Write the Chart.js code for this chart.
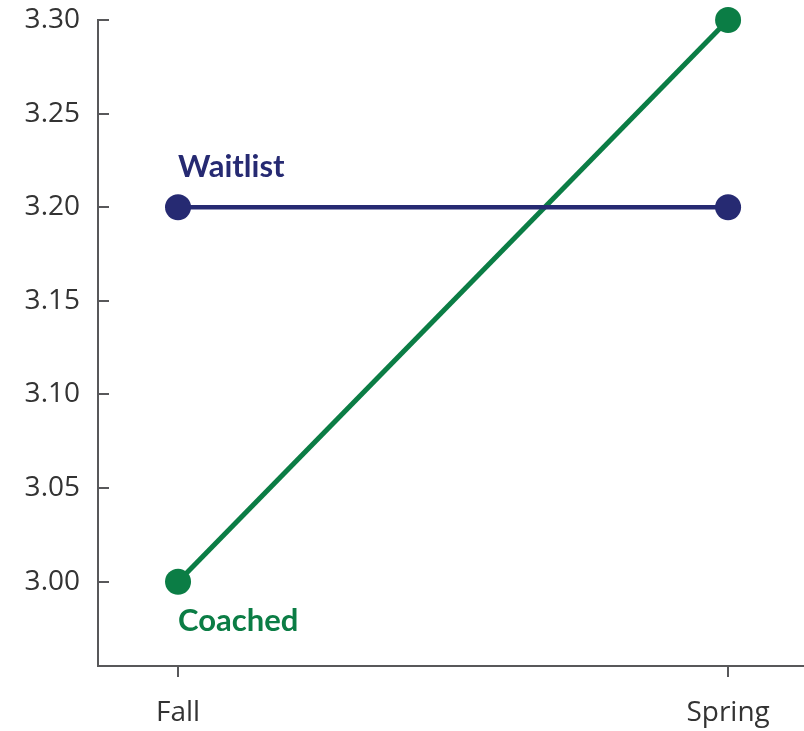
<!DOCTYPE html>
<html><head><meta charset="utf-8">
<script src="https://cdn.jsdelivr.net/npm/chart.js@4"></script>
<style>html,body{margin:0;padding:0;background:#fff;overflow:hidden}canvas{display:block}</style>
</head><body><canvas id="c" width="804" height="731"></canvas>
<script>
const categories = ["Fall", "Spring"];
const waitlist = [3.20, 3.20];
const coached = [3.00, 3.30];
const yTicks = [3.00, 3.05, 3.10, 3.15, 3.20, 3.25, 3.30];
const seriesNames = ["Waitlist", "Coached"];

const NAVY = "#262a72", GREEN = "#0b7d45", AX = "#58585a";

const toXY = arr => arr.map((v, i) => ({x: i, y: v}));

const inwardTicks = {
  id: "inwardTicks",
  afterDraw(chart) {
    const ctx = chart.ctx, y = chart.scales.y, left = y.right;
    ctx.save();
    ctx.strokeStyle = AX; ctx.lineWidth = 2;
    yTicks.forEach(v => {
      const py = Math.round(y.getPixelForValue(v));
      ctx.beginPath(); ctx.moveTo(left, py); ctx.lineTo(left + 11, py); ctx.stroke();
    });
    ctx.restore();
  }
};

const seriesLabels = {
  id: "seriesLabels",
  afterDatasetsDraw(chart) {
    const ctx = chart.ctx, xs = chart.scales.x, ys = chart.scales.y;
    ctx.save();
    ctx.font = "bold 31px Lato, 'Open Sans', sans-serif";
    ctx.textAlign = "left"; ctx.textBaseline = "middle";
    ctx.fillStyle = NAVY;
    ctx.fillText(seriesNames[0], xs.getPixelForValue(0), ys.getPixelForValue(waitlist[0]) - 40);
    ctx.fillStyle = GREEN;
    ctx.fillText(seriesNames[1], xs.getPixelForValue(0), ys.getPixelForValue(coached[0]) + 39);
    ctx.restore();
  }
};

new Chart(document.getElementById("c"), {
  type: "line",
  data: {
    datasets: [
      {label: seriesNames[0], data: toXY(waitlist), borderColor: NAVY, backgroundColor: NAVY,
       borderWidth: 4.5, pointRadius: 13, pointBackgroundColor: NAVY, pointBorderWidth: 0, clip: false},
      {label: seriesNames[1], data: toXY(coached), borderColor: GREEN, backgroundColor: GREEN,
       borderWidth: 5, pointRadius: 13, pointBackgroundColor: GREEN, pointBorderWidth: 0, clip: false}
    ]
  },
  options: {
    responsive: false, animation: false, devicePixelRatio: 1,
    layout: {autoPadding: false, padding: {top: 20, right: 0, left: 0, bottom: 0}},
    plugins: {legend: {display: false}, tooltip: {enabled: false}},
    scales: {
      x: {
        type: "linear", min: -0.1455, max: 1.138,
        afterBuildTicks: s => { s.ticks = categories.map((c, i) => ({value: i})); },
        afterFit: s => { s.height = 65; s.paddingLeft = 0; s.paddingRight = 0; },
        border: {color: AX, width: 2},
        grid: {drawOnChartArea: false, drawTicks: true, tickLength: 11, color: AX, lineWidth: 2},
        ticks: {callback: v => categories[v], color: "#333", padding: 19,
                font: {family: "'Open Sans', Lato, sans-serif", size: 28}, maxRotation: 0}
      },
      y: {
        min: 2.955, max: 3.30,
        afterBuildTicks: s => { s.ticks = yTicks.map(v => ({value: v})); },
        afterFit: s => { s.width = 98; s.paddingTop = 0; s.paddingBottom = 0; },
        border: {color: AX, width: 2},
        grid: {display: false, drawTicks: false},
        ticks: {callback: v => v.toFixed(2), color: "#333", padding: 18,
                font: {family: "'Open Sans', Lato, sans-serif", size: 28}}
      }
    }
  },
  plugins: [inwardTicks, seriesLabels]
});
</script></body></html>
